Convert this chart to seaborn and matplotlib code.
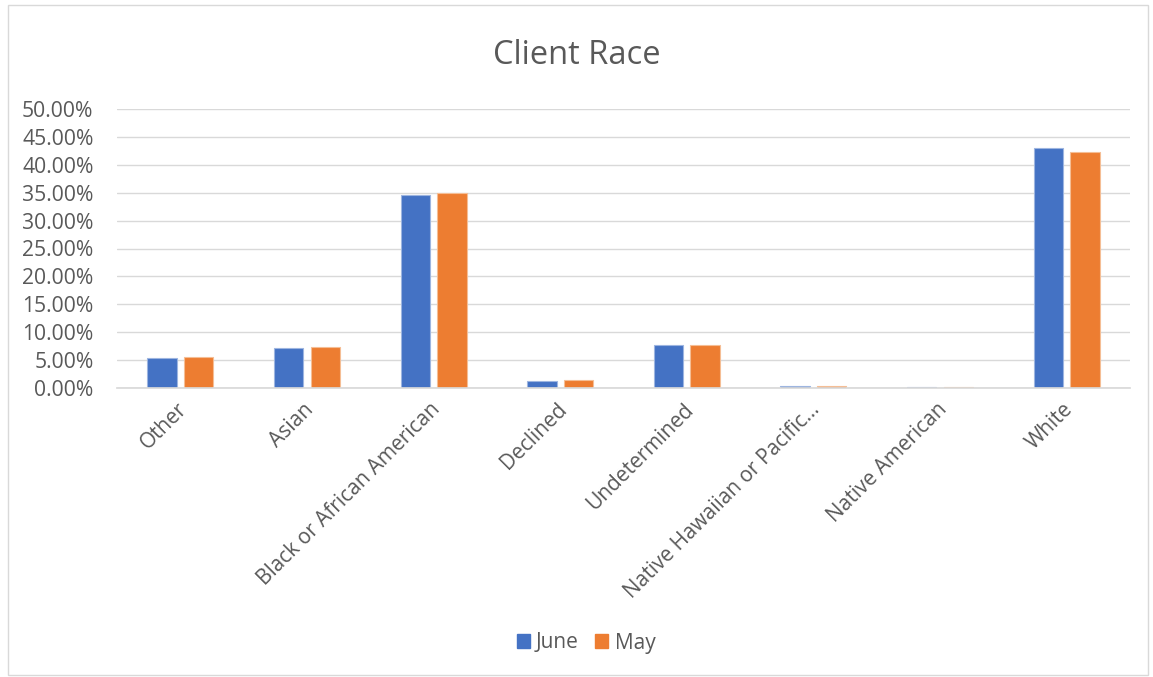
import matplotlib
matplotlib.use("Agg")
import matplotlib.pyplot as plt
import matplotlib.transforms as mtransforms
import seaborn as sns
import pandas as pd
from matplotlib.ticker import FuncFormatter, MultipleLocator
from matplotlib.patches import Rectangle

categories = ["Other", "Asian", "Black or African American", "Declined", "Undetermined",
              "Native Hawaiian or Pacific...", "Native American", "White"]
june = [5.3, 7.2, 34.6, 1.3, 7.65, 0.36, 0.2, 43.0]
may = [5.5, 7.4, 34.9, 1.4, 7.65, 0.36, 0.15, 42.35]
series = ["June", "May"]
colors = ["#4472C4", "#ED7D31"]
edge_colors = ["#9DB5E0", "#F5BE95"]

df = pd.DataFrame({
    "cat": categories * 2,
    "val": june + may,
    "series": ["June"] * len(categories) + ["May"] * len(categories),
})

sns.set_theme(style="white")
plt.rcParams["font.family"] = ["Open Sans", "DejaVu Sans"]

fig = plt.figure(figsize=(11.53, 6.77), dpi=100)
ax = fig.add_axes([117/1153, 1 - 388/677, (1130-117)/1153, (388-109)/677])

sns.barplot(data=df, x="cat", y="val", hue="series", order=categories, hue_order=series,
            palette=colors, width=0.58, gap=0.2, ax=ax, legend=False, saturation=1)

for i, cont in enumerate(ax.containers):
    for p in cont:
        p.set_edgecolor(edge_colors[i])
        p.set_linewidth(0.8)

ax.set_ylim(0, 50)
ax.yaxis.set_major_locator(MultipleLocator(5))
ax.yaxis.set_major_formatter(FuncFormatter(lambda v, p: f"{v:.2f}%"))
ax.grid(axis="y", color="#D9D9D9", linewidth=1)
ax.set_axisbelow(True)
for s in ["top", "right", "left"]:
    ax.spines[s].set_visible(False)
ax.spines["bottom"].set_color("#D9D9D9")
ax.set_xlabel("")
ax.set_ylabel("")
ax.tick_params(axis="y", length=0, labelsize=15.2, colors="#595959", pad=17)
ax.tick_params(axis="x", length=0, labelsize=15, colors="#595959", pad=8)
offset = mtransforms.ScaledTranslation(-4/100, 0, fig.dpi_scale_trans)
for lab in ax.get_xticklabels():
    lab.set_rotation(45)
    lab.set_ha("right")
    lab.set_rotation_mode("anchor")
    lab.set_transform(lab.get_transform() + offset)
ax.set_xlim(-0.5, len(categories) - 0.5)

fig.text(0.5, 1 - 55/677, "Client Race", ha="center", va="center", fontsize=23.5, color="#595959")

handles = [Rectangle((0, 0), 1, 1, color=c) for c in colors]
fig.legend(handles, series, loc="center", bbox_to_anchor=(586/1153, 1 - 643/677), ncol=2,
           frameon=False, fontsize=15, handlelength=0.62, handleheight=0.62,
           handletextpad=0.3, columnspacing=0.8, labelcolor="#595959")

fig.patches.append(Rectangle((8/1153, 2/677), 1140/1153, 670/677, transform=fig.transFigure,
                             fill=False, edgecolor="#D9D9D9", linewidth=1))

fig.savefig("out.png", dpi=100)
